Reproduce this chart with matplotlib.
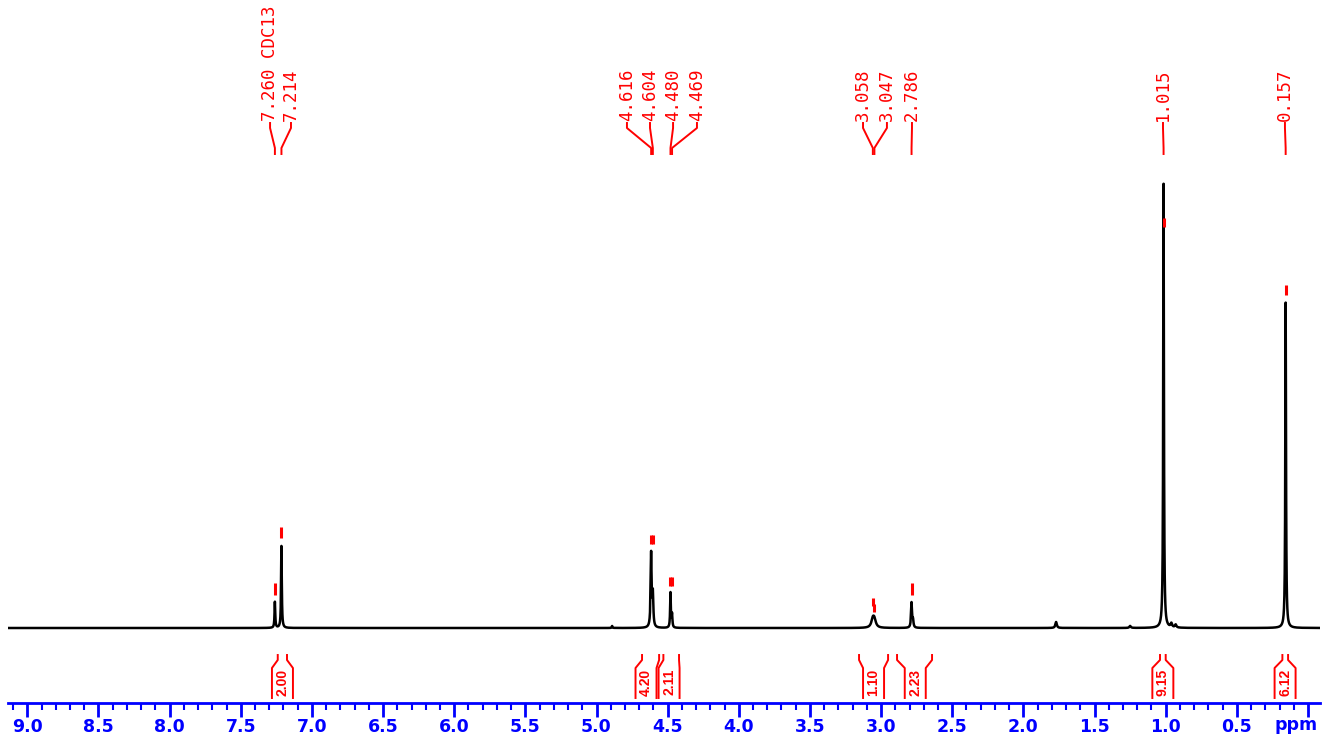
import numpy as np
import matplotlib
matplotlib.use("Agg")
from matplotlib import pyplot as plt
from matplotlib.ticker import MultipleLocator

# peak list: position (ppm), height (a.u.), half width (ppm)
peakPos = [7.260, 7.214, 4.616, 4.604, 4.480, 4.469, 3.058, 3.047, 2.786, 2.776,
           1.770, 1.015, 0.960, 0.930, 0.157, 4.890, 1.250]
peakHeight = [26, 82, 74, 32, 35, 13, 8, 7, 25, 7,
              6, 445, 4, 3, 326, 2, 2]
peakWidth = [0.003, 0.003, 0.004, 0.004, 0.003, 0.003, 0.012, 0.012, 0.004, 0.004,
             0.006, 0.003, 0.006, 0.006, 0.003, 0.003, 0.006]

# picked peaks: label text, ppm, red marker (low, high)
pickLabels = ['7.260 CDC13', '7.214', '4.616', '4.604', '4.480', '4.469',
              '3.058', '3.047', '2.786', '1.015', '0.157']
pickPpm = [7.260, 7.214, 4.616, 4.604, 4.480, 4.469, 3.058, 3.047, 2.786, 1.015, 0.157]
pickLabelPpm = [7.294, 7.147, 4.786, 4.624, 4.462, 4.294, 3.127, 2.959, 2.783, 1.019, 0.162]
markLow = [33, 90, 84, 84, 42, 42, 22, 16, 33, 401, 333]
markHigh = [45, 101, 93, 93, 51, 51, 30, 24, 45, 410, 343]

# integrals: region (ppm from, ppm to), label position, value
intFrom = [7.24, 4.68, 4.53, 3.155, 2.888, 1.04, 0.18]
intTo = [7.175, 4.56, 4.42, 2.951, 2.642, 1.00, 0.14]
intLabelPpm = [7.207, 4.652, 4.490, 3.053, 2.760, 1.020, 0.161]
intValues = ['2.00', '4.20', '2.11', '1.10', '2.23', '9.15', '6.12']

W, H = 1336, 742
pxPerPpm = 142.3
xLeft = (1308 - 8) / pxPerPpm
xRight = (1308 - 1320) / pxPerPpm
RED = '#ff0000'
BLUE = '#0000ff'

fig = plt.figure(figsize=(W / 100, H / 100), dpi=100)
fig.patch.set_facecolor('white')

# spectrum axes: y units are pixels above baseline (baseline at y=628 from top)
ax = fig.add_axes([8 / W, 0, 1312 / W, 1])
ax.set_xlim(xLeft, xRight)
ax.set_ylim(-(H - 628), 628)
ax.axis('off')

ppm = np.arange(xRight, xLeft, 0.0004)
spec = np.zeros_like(ppm)
for p, h, w in zip(peakPos, peakHeight, peakWidth):
	spec += h * w ** 2 / ((ppm - p) ** 2 + w ** 2)
ax.plot(ppm, spec, color='black', lw=1.8, solid_joinstyle='round')

# peak picking labels and connectors
for lab, p, lp, lo, hi in zip(pickLabels, pickPpm, pickLabelPpm, markLow, markHigh):
	ax.plot([lp, lp, p, p], [505, 500, 480, 474], color=RED, lw=1.4)
	ax.text(lp, 507, lab, rotation=90, ha='center', va='bottom', color=RED,
	        fontsize=12.5, family='DejaVu Sans Mono')
	ax.plot([p, p], [lo, hi], color=RED, lw=2.2, solid_capstyle='butt')

# integral brackets
halfBody = 10.5 / pxPerPpm
for f, t, lp, val in zip(intFrom, intTo, intLabelPpm, intValues):
	ax.plot([f, f, lp + halfBody, lp + halfBody], [-27, -32, -40, -70], color=RED, lw=1.4)
	ax.plot([t, t, lp - halfBody, lp - halfBody], [-27, -32, -40, -70], color=RED, lw=1.4)
	ax.text(lp, -54, val, rotation=90, ha='center', va='center', color=RED,
	        fontsize=10, fontweight='bold', family=['Liberation Sans', 'DejaVu Sans'])

# ppm scale at the bottom
axs = fig.add_axes([8 / W, (H - 703) / H, 1312 / W, 0.001])
axs.set_xlim(xLeft, xRight)
axs.set_yticks([])
for s in ['top', 'left', 'right']:
	axs.spines[s].set_visible(False)
axs.spines['bottom'].set_color(BLUE)
axs.spines['bottom'].set_linewidth(2)
axs.xaxis.set_major_locator(MultipleLocator(0.5))
axs.xaxis.set_minor_locator(MultipleLocator(0.1))
axs.tick_params(axis='x', which='major', length=10, width=2, color=BLUE, pad=1,
                labelcolor=BLUE, labelsize=12.5)
axs.tick_params(axis='x', which='minor', length=5, width=1.5, color=BLUE)
ticks = np.arange(0, 9.01, 0.5)
axs.set_xticks(ticks)
axs.set_xticklabels(['' if abs(v) < 1e-9 else '%.1f' % v for v in ticks],
                    fontweight='bold', family='DejaVu Sans')
axs.patch.set_alpha(0)
fig.text(1296 / W, 1 - 725 / H, 'ppm', ha='center', va='center', color=BLUE,
         fontsize=12.5, fontweight='bold')

fig.savefig('out.png', dpi=100)
